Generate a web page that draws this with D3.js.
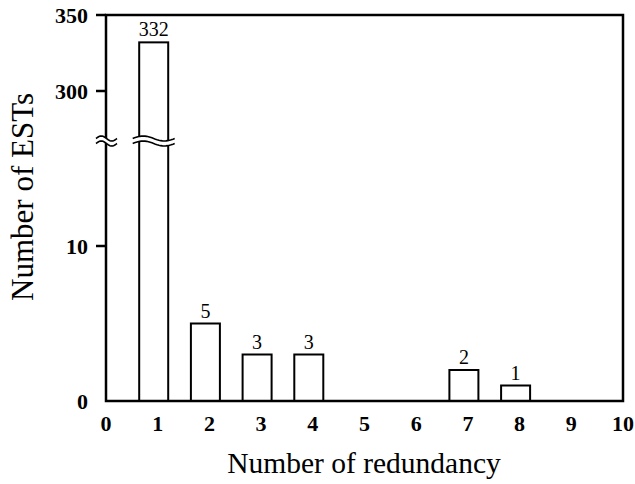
<!DOCTYPE html>
<html>
<head>
<meta charset="utf-8">
<script src="https://cdn.jsdelivr.net/npm/d3@7"></script>
<style>
  body { margin: 0; background: #fff; }
  text { font-family: "Liberation Serif", "Times New Roman", serif; fill: #000; }
</style>
</head>
<body>
<div id="chart"></div>
<script>
// data
const redundancy = [1, 2, 3, 4, 7, 8];
const estCounts = [332, 5, 3, 3, 2, 1];
const xTicks = [0, 1, 2, 3, 4, 5, 6, 7, 8, 9, 10];
const lowTicks = [0, 10];
const highTicks = [300, 350];

const width = 635, height = 484;
const plotLeft = 106, plotRight = 623, plotBottom = 401, plotTop = 15;
const breakY = 141;

const svg = d3.select('#chart').append('svg')
    .attr('width', width).attr('height', height);

const x = d3.scaleLinear().domain([0, 10]).range([plotLeft, plotRight]);
const yLow = d3.scaleLinear().domain([0, 10]).range([plotBottom, 246]);
const yHigh = d3.scaleLinear().domain([300, 350]).range([91, plotTop]);
const y = v => v >= 300 ? yHigh(v) : yLow(v);

const barW = 29, barShift = -4;
const bars = redundancy.map((r, i) => ({r, v: estCounts[i]}));

// bars
svg.append('g').selectAll('rect')
    .data(bars)
    .join('rect')
    .attr('x', d => x(d.r) + barShift - barW / 2)
    .attr('y', d => y(d.v))
    .attr('width', barW)
    .attr('height', d => plotBottom - y(d.v))
    .attr('fill', '#fff')
    .attr('stroke', '#000')
    .attr('stroke-width', 2);

// value labels
svg.append('g').selectAll('text')
    .data(bars)
    .join('text')
    .attr('x', d => x(d.r) + barShift)
    .attr('y', d => y(d.v) - 6)
    .attr('text-anchor', 'middle')
    .attr('font-size', 20)
    .text(d => d.v);

// frame
svg.append('path')
    .attr('d', `M${plotLeft},${plotTop}H${plotRight}V${plotBottom}H${plotLeft}Z`)
    .attr('fill', 'none').attr('stroke', '#000').attr('stroke-width', 2.5);

// y ticks
const yTicks = highTicks.map(v => ({v, py: yHigh(v)}))
    .concat(lowTicks.map(v => ({v, py: yLow(v)})));
svg.append('g').selectAll('line')
    .data(yTicks.filter(d => d.v !== 0))
    .join('line')
    .attr('x1', plotLeft - 10).attr('x2', plotLeft)
    .attr('y1', d => d.py).attr('y2', d => d.py)
    .attr('stroke', '#000').attr('stroke-width', 2.5);
svg.append('g').selectAll('text')
    .data(yTicks)
    .join('text')
    .attr('x', plotLeft - 18)
    .attr('y', d => d.py + 8)
    .attr('text-anchor', 'end')
    .attr('font-size', 22)
    .attr('font-weight', 'bold')
    .text(d => d.v);

// x tick labels
svg.append('g').selectAll('text')
    .data(xTicks)
    .join('text')
    .attr('x', d => x(d))
    .attr('y', 431)
    .attr('text-anchor', 'middle')
    .attr('font-size', 22)
    .attr('font-weight', 'bold')
    .text(d => d);

// axis break marks
function breakMark(x0, x1) {
    const n = 24, gap = 5, amp = 2.5;
    const wave = dy => d3.range(n + 1).map(i => {
        const t = i / n;
        return [x0 + t * (x1 - x0), breakY + dy - amp * Math.sin(t * 2 * Math.PI)];
    });
    const upper = wave(-gap / 2), lower = wave(gap / 2);
    const line = d3.line();
    const g = svg.append('g');
    g.append('path')
        .attr('d', line(upper.concat(lower.slice().reverse())) + 'Z')
        .attr('fill', '#fff');
    [upper, lower].forEach(pts => g.append('path')
        .attr('d', line(pts))
        .attr('fill', 'none').attr('stroke', '#000').attr('stroke-width', 1.6));
}
breakMark(96, 117);
breakMark(x(1) + barShift - 21, x(1) + barShift + 21);

// axis titles
svg.append('text')
    .attr('x', 364).attr('y', 473)
    .attr('text-anchor', 'middle')
    .attr('font-size', 29.5)
    .text('Number of redundancy');
svg.append('text')
    .attr('transform', `translate(33,197) rotate(-90)`)
    .attr('text-anchor', 'middle')
    .attr('font-size', 31)
    .text('Number of ESTs');
</script>
</body>
</html>
